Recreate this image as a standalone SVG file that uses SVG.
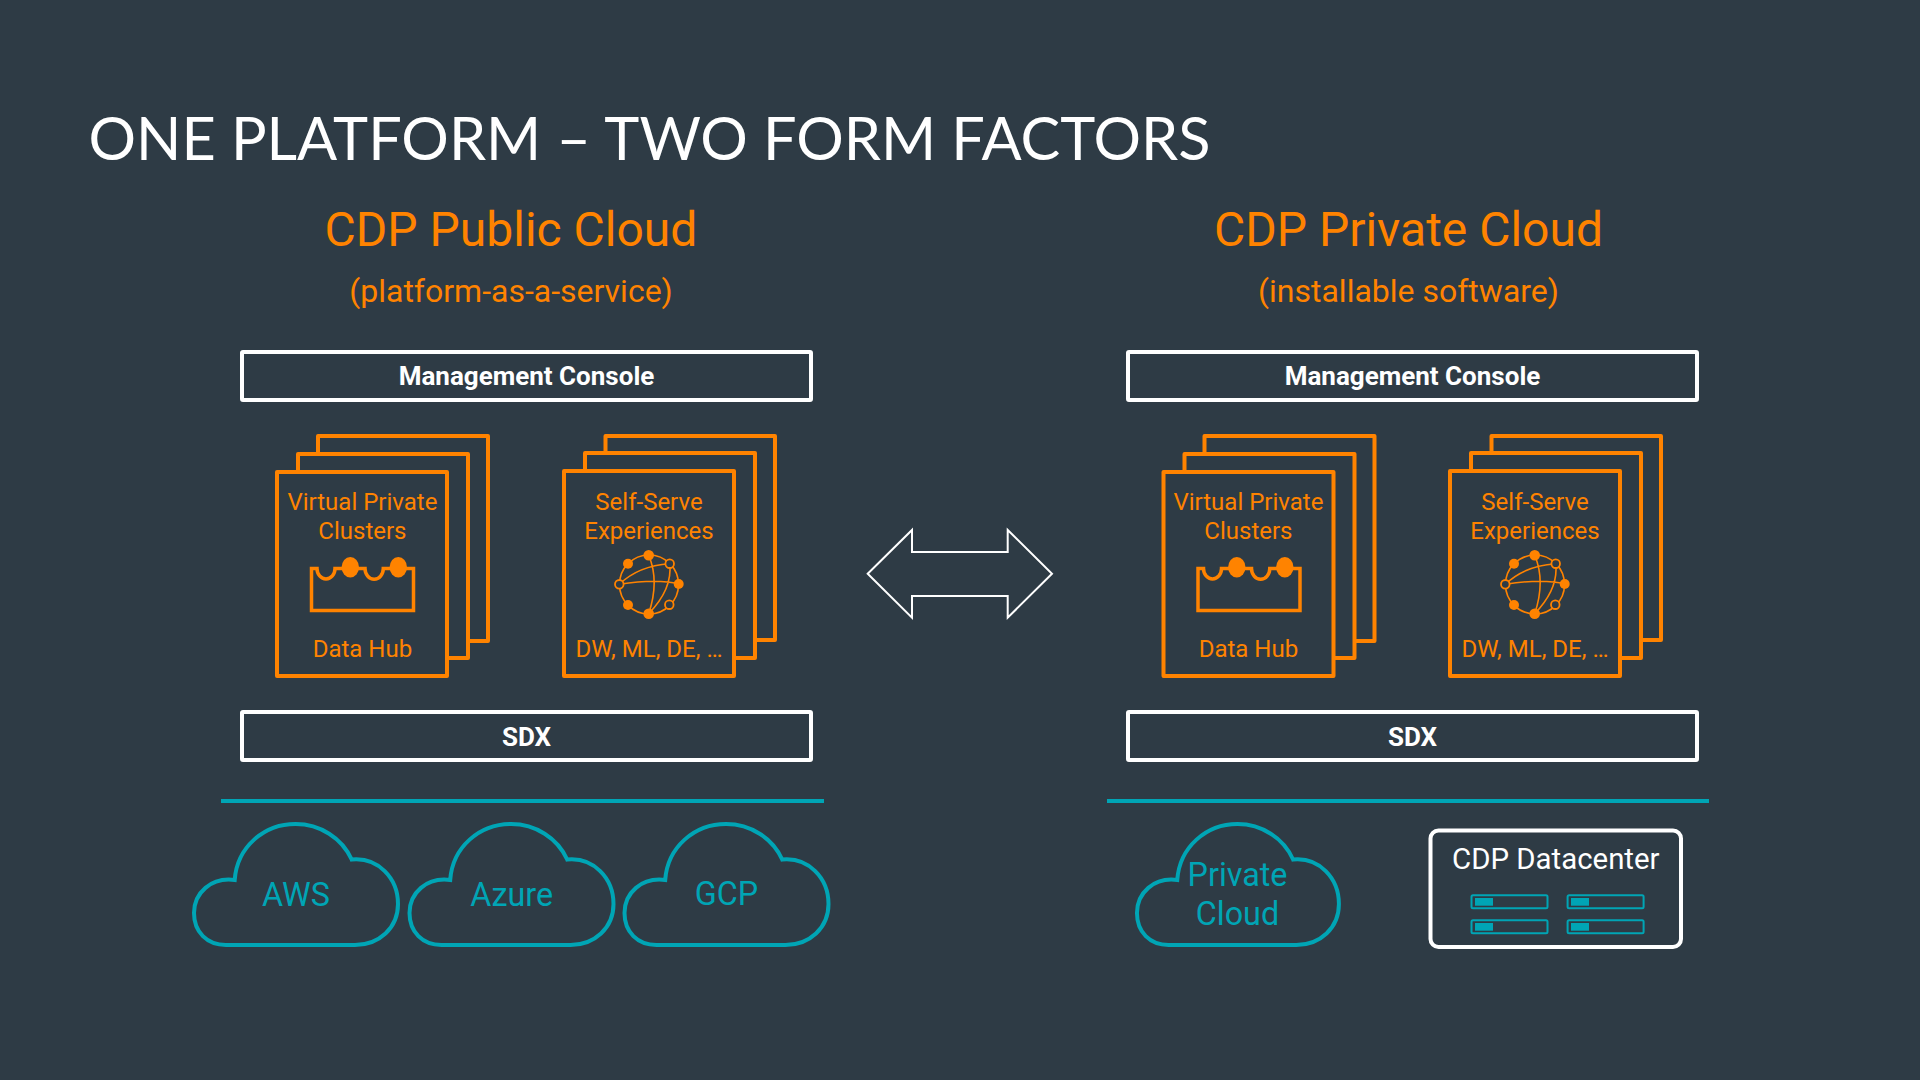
<svg xmlns="http://www.w3.org/2000/svg" xmlns:xlink="http://www.w3.org/1999/xlink" width="1920" height="1080" viewBox="0 0 1920 1080">
<style>
text{font-family:Roboto,"Liberation Sans",sans-serif;text-anchor:middle}
.title{font-family:Lato,"Liberation Sans",sans-serif;font-size:59.4px;fill:#fff;text-anchor:start}
.h1{font-size:48px;fill:#ff8300}
.h2{font-size:32px;fill:#ff8300}
.bar{fill:#2e3b45;stroke:#fff;stroke-width:4}
.barT{font-size:26px;font-weight:700;fill:#fff}
.page{fill:#2e3b45;stroke:#ff8300;stroke-width:4;stroke-linejoin:round}
.or{font-size:24px;fill:#ff8300}
.rule{stroke:#00a5b5;stroke-width:4}
.cloud{fill:none;stroke:#00a5b5;stroke-width:4}
.te{font-size:32.3px;fill:#00a5b5}
.ln{fill:none;stroke:#ff8300;stroke-width:1.6}
.fo{fill:#ff8300}
.oo{fill:#2e3b45;stroke:#ff8300;stroke-width:1.8}
.srv{fill:none;stroke:#00a5b5;stroke-width:2}
.srvf{fill:#00a5b5}
</style>
<defs>
<path id="cloudP" d="M234.7 880C237 847 264 824 295.5 824C320 824 342 838 351.7 859.5C378 857 398 878 398 904C398 928 379 945 355 945L226 945C207 945 194 932 194 913C194 893 211 877 234.7 880Z"/>
<g id="hubIcon">
<path d="M311.5 568.5H317a9 10.5 0 0 0 18 0H365a9 10.5 0 0 0 18.3 0H413.5V610.5H311.5Z" fill="none" stroke="#ff8300" stroke-width="3.5"/>
<ellipse class="fo" cx="350.3" cy="567.3" rx="8.7" ry="10.3"/>
<ellipse class="fo" cx="398.3" cy="567.3" rx="8.7" ry="10.3"/>
</g>
<g id="netIcon">
<circle class="ln" cx="649" cy="584.5" r="29.5"/>
<path class="ln" d="M619.3 584.3C632 572 650 565 669.7 563.7M619.3 584.3C640 581 660 579 678.7 584M648.7 555.3C657 575 655 595 648.7 613.7M648.7 613.7C662 600 672 583 669.7 563.7"/>
<circle class="fo" cx="628" cy="563.7" r="5"/>
<circle class="fo" cx="648.7" cy="555.3" r="5.3"/>
<circle class="oo" cx="669.7" cy="563.7" r="4.3"/>
<circle class="fo" cx="678.7" cy="584" r="5"/>
<circle class="oo" cx="669.3" cy="604.7" r="4.3"/>
<circle class="fo" cx="648.7" cy="613.7" r="5.3"/>
<circle class="fo" cx="628" cy="605" r="5"/>
<circle class="oo" cx="619.3" cy="584.3" r="4.3"/>
</g>
<g id="stackA">
<rect class="page" x="318" y="436" width="170" height="205"/>
<rect class="page" x="298" y="454" width="170" height="204"/>
<rect class="page" x="277" y="472" width="170" height="204"/>
</g>
<g id="stackB">
<rect class="page" x="605.5" y="436" width="169.5" height="204"/>
<rect class="page" x="585" y="453" width="170" height="205"/>
<rect class="page" x="564" y="471" width="170" height="205"/>
</g>
</defs>
<rect width="1920" height="1080" fill="#2e3b45"/>
<text class="title" x="88.5" y="160">ONE PLATFORM – TWO FORM FACTORS</text>

<g id="heading-public">
<text class="h1" x="511" y="246">CDP Public Cloud</text>
<text class="h2" x="511" y="302">(platform-as-a-service)</text>
</g>
<g id="heading-private">
<text class="h1" x="1408.5" y="246">CDP Private Cloud</text>
<text class="h2" x="1408.5" y="302">(installable software)</text>
</g>

<g id="console-public"><rect class="bar" x="242" y="352" width="569" height="48" rx="1"/><text class="barT" x="526.5" y="385">Management Console</text></g>
<g id="vpc-public">
<use href="#stackA"/>
<text class="or" x="362.4" y="509.5">Virtual Private</text>
<text class="or" x="362.4" y="538.5">Clusters</text>
<use href="#hubIcon"/>
<text class="or" x="362.4" y="657">Data Hub</text>
</g>
<g id="sse-public">
<use href="#stackB"/>
<text class="or" x="649" y="509.5">Self-Serve</text>
<text class="or" x="649" y="538.5">Experiences</text>
<use href="#netIcon"/>
<text class="or" x="649" y="657">DW, ML, DE, …</text>
</g>
<g id="sdx-public"><rect class="bar" x="242" y="712" width="569" height="48" rx="1"/><text class="barT" x="526.5" y="746">SDX</text></g>
<line class="rule" id="rule-public" x1="221" y1="801" x2="824" y2="801"/>
<g id="aws"><use href="#cloudP" class="cloud"/><text class="te" x="296" y="906">AWS</text></g>
<g id="azure"><g transform="translate(215.5 0)"><use href="#cloudP" class="cloud"/></g><text class="te" x="511.7" y="906">Azure</text></g>
<g id="gcp"><g transform="translate(430.5 0)"><use href="#cloudP" class="cloud"/></g><text class="te" x="726.5" y="905">GCP</text></g>

<g id="connectors">
<path d="M867.7 573.7L912 530V552H1007.7V530L1052 573.7L1007.7 617.7V596H912V617.7Z" fill="none" stroke="#fff" stroke-width="2"/>
</g>

<g id="console-private"><rect class="bar" x="1128" y="352" width="569" height="48" rx="1"/><text class="barT" x="1412.5" y="385">Management Console</text></g>
<g id="vpc-private">
<g transform="translate(886.5 0)"><use href="#stackA"/><use href="#hubIcon"/></g>
<text class="or" x="1248.4" y="509.5">Virtual Private</text>
<text class="or" x="1248.4" y="538.5">Clusters</text>
<text class="or" x="1248.4" y="657">Data Hub</text>
</g>
<g id="sse-private">
<g transform="translate(886 0)"><use href="#stackB"/><use href="#netIcon"/></g>
<text class="or" x="1535" y="509.5">Self-Serve</text>
<text class="or" x="1535" y="538.5">Experiences</text>
<text class="or" x="1535" y="657">DW, ML, DE, …</text>
</g>
<g id="sdx-private"><rect class="bar" x="1128" y="712" width="569" height="48" rx="1"/><text class="barT" x="1412.5" y="746">SDX</text></g>
<line class="rule" id="rule-private" x1="1107" y1="801" x2="1709" y2="801"/>
<g id="private-cloud"><g transform="translate(944.9 0) scale(.99 1)"><use href="#cloudP" class="cloud"/></g><text class="te" x="1237.5" y="886">Private</text><text class="te" x="1237.5" y="925">Cloud</text></g>
<g id="datacenter">
<rect x="1430.5" y="830.5" width="250.5" height="116.5" rx="8" fill="none" stroke="#fff" stroke-width="4"/>
<text x="1555.8" y="869" font-size="29.4" fill="#fff">CDP Datacenter</text>
<rect class="srv" x="1471.5" y="895.3" width="76" height="13" rx="1.5"/><rect class="srvf" x="1475" y="898" width="18" height="7.7"/>
<rect class="srv" x="1567.6" y="895.3" width="76" height="13" rx="1.5"/><rect class="srvf" x="1571" y="898" width="18" height="7.7"/>
<rect class="srv" x="1471.5" y="920.3" width="76" height="13" rx="1.5"/><rect class="srvf" x="1475" y="923" width="18" height="7.7"/>
<rect class="srv" x="1567.6" y="920.3" width="76" height="13" rx="1.5"/><rect class="srvf" x="1571" y="923" width="18" height="7.7"/>
</g>
</svg>
